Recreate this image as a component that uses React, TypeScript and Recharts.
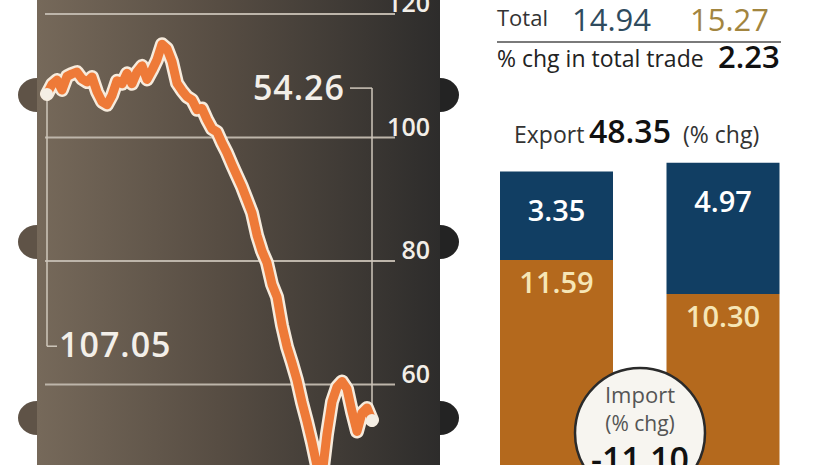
import React from 'react';
import { LineChart, Line, XAxis, YAxis, CartesianGrid, ReferenceLine, BarChart, Bar, LabelList } from 'recharts';

// crude price, $ per barrel (one point per trading step)
const oilPrices = [
  107.05, 108.6, 109.3, 107.7, 109.9, 110.3, 110.6, 109.5, 109.0, 109.8,
  107.4, 105.8, 105.3, 106.8, 109.2, 108.7, 110.4, 108.7, 110.6, 111.6,
  109.4, 110.9, 112.6, 115.1, 114.4, 112.3, 108.8, 107.6, 106.6, 106.1,
  104.5, 104.7, 102.9, 101.4, 100.9, 99.1, 97.5, 95.6, 93.8, 92.0,
  89.9, 87.8, 84.2, 81.6, 79.7, 76.2, 74.2, 69.6, 66.1, 63.5,
  60.7, 57.1, 54.0, 50.6, 46.8, 45.2, 52.0, 57.2, 59.6, 60.5,
  59.3, 55.6, 52.4, 55.4, 56.2, 54.26,
];
const priceTicks = [60, 80, 100, 120];
const startPrice = 107.05;
const endPrice = 54.26;

// trade, $ bn
const periods = ['Previous', 'Current'];
const exportVals = [3.35, 4.97];
const importVals = [11.59, 10.3];
const totals = ['14.94', '15.27'];

const lineData = oilPrices.map((p, i) => ({ day: i, price: p }));
const barData = periods.map((p, i) => ({ period: p, exp: exportVals[i], imp: importVals[i] }));
const lastIdx = oilPrices.length - 1;

const FONT = '"Open Sans", "Noto Sans", sans-serif';
const NAVY = '#113e63';
const OCHRE = '#b4691d';

const PriceTick = (props: any) => {
  const { x, y, payload } = props;
  return (
    <text x={x + 27} y={y - 2} textAnchor="end" fill="#f2eee8" fontSize={25} fontWeight={600} fontFamily={FONT}>
      {payload.value}
    </text>
  );
};

const EndDot = (props: any) => {
  const { cx, cy, index } = props;
  if (index !== 0 && index !== lastIdx) return <g key={`d${index}`} />;
  return <circle key={`d${index}`} cx={cx} cy={cy} r={6} fill="#f4eee4" />;
};

const barLabel = (offset: number, color: string) => (props: any) => {
  const { x, y, width, value } = props;
  return (
    <text x={x + width / 2} y={y + offset} textAnchor="middle" fill={color} fontSize={29} fontWeight={600} fontFamily={FONT}>
      {Number(value).toFixed(2)}
    </text>
  );
};

const bumpRows = [95, 242, 418];

export default function App() {
  return (
    <div style={{ position: 'absolute', left: 0, top: 0, width: 826, height: 465, overflow: 'hidden', background: '#fff', fontFamily: FONT }}>
      {/* barrel */}
      {bumpRows.map((c) => (
        <React.Fragment key={c}>
          <div style={{ position: 'absolute', left: 18, top: c - 17, width: 38, height: 34, borderRadius: '50%', background: '#5f5347' }} />
          <div style={{ position: 'absolute', left: 421, top: c - 17, width: 38, height: 34, borderRadius: '50%', background: '#232323' }} />
        </React.Fragment>
      ))}
      <div style={{ position: 'absolute', left: 37, top: -30, width: 403, height: 530, background: 'linear-gradient(90deg, #76695a 0%, #574d43 45%, #2d2c2b 100%)' }} />

      <div style={{ position: 'absolute', left: 0, top: 0 }}>
        <LineChart width={440} height={520} data={lineData} margin={{ top: 14, right: 0, bottom: 12, left: 45 }}>
          <CartesianGrid vertical={false} stroke="#bdb5aa" strokeWidth={2} />
          <XAxis dataKey="day" type="number" domain={[-0.4, 69.6]} hide />
          <YAxis orientation="right" width={45} domain={[40, 120]} ticks={priceTicks} axisLine={false} tickLine={false} tick={<PriceTick />} />
          <ReferenceLine segment={[{ x: 0, y: startPrice }, { x: 0, y: 66.2 }]} stroke="#cfc7bb" strokeWidth={1.5} />
          <ReferenceLine segment={[{ x: 0, y: 66.2 }, { x: 2, y: 66.2 }]} stroke="#cfc7bb" strokeWidth={1.5} />
          <ReferenceLine segment={[{ x: 60.6, y: 108 }, { x: 65, y: 108 }]} stroke="#cfc7bb" strokeWidth={1.5} />
          <ReferenceLine segment={[{ x: 65, y: 108 }, { x: 65, y: endPrice }]} stroke="#cfc7bb" strokeWidth={1.5} />
          <Line dataKey="price" type="linear" stroke="#f6ebdd" strokeWidth={14} strokeLinejoin="round" strokeLinecap="round" dot={false} isAnimationActive={false} />
          <Line dataKey="price" type="linear" stroke="#ee7a38" strokeWidth={9} strokeLinejoin="round" strokeLinecap="round" dot={<EndDot />} isAnimationActive={false} />
        </LineChart>
      </div>

      <div style={{ position: 'absolute', left: 473, top: 0 }}>
        <BarChart width={333} height={566} data={barData} margin={{ top: 38, right: 0, bottom: 0, left: 0 }}>
          <XAxis dataKey="period" hide />
          <YAxis domain={[0, 20]} hide />
          <Bar dataKey="imp" stackId="t" fill={OCHRE} barSize={113} isAnimationActive={false}>
            <LabelList dataKey="imp" content={barLabel(33, '#f6e6b6')} />
          </Bar>
          <Bar dataKey="exp" stackId="t" fill={NAVY} barSize={113} isAnimationActive={false}>
            <LabelList dataKey="exp" content={barLabel(49, '#ffffff')} />
          </Bar>
        </BarChart>
      </div>

      <svg width={826} height={465} style={{ position: 'absolute', left: 0, top: 0, pointerEvents: 'none' }} fontFamily={FONT}>
        <text x={345} y={100} textAnchor="end" fill="#f3efe9" fontSize={34} fontWeight={600} letterSpacing={1}>{endPrice.toFixed(2)}</text>
        <text x={59} y={357} fill="#f3efe9" fontSize={34} fontWeight={600} letterSpacing={1}>{startPrice.toFixed(2)}</text>

        <text x={497} y={26} fill="#333" fontSize={22}>Total</text>
        <text x={572} y={31} fill="#2f4b5e" fontSize={31}>{totals[0]}</text>
        <text x={690} y={31} fill="#a2853f" fontSize={31}>{totals[1]}</text>
        <line x1={497} x2={781} y1={42} y2={42} stroke="#7a7a7a" strokeWidth={2} />
        <text x={497} y={67} fill="#222" fontSize={23}>% chg in total trade</text>
        <text x={718} y={68} fill="#111" fontSize={31} fontWeight={600}>2.23</text>
        <text x={514} y={143} fill="#333" fontSize={23}>Export</text>
        <text x={589} y={143} fill="#111" fontSize={32} fontWeight={600}>48.35</text>
        <text x={683} y={143} fill="#333" fontSize={23}>(% chg)</text>

        <circle cx={640} cy={433} r={65} fill="#f7f5f0" stroke="#2a2a2a" strokeWidth={2.5} />
        <text x={640} y={403} textAnchor="middle" fill="#555" fontSize={22}>Import</text>
        <text x={640} y={431} textAnchor="middle" fill="#555" fontSize={21}>(% chg)</text>
        <text x={640} y={472} textAnchor="middle" fill="#111" fontSize={34} fontWeight={600}>-11.10</text>
      </svg>
    </div>
  );
}
